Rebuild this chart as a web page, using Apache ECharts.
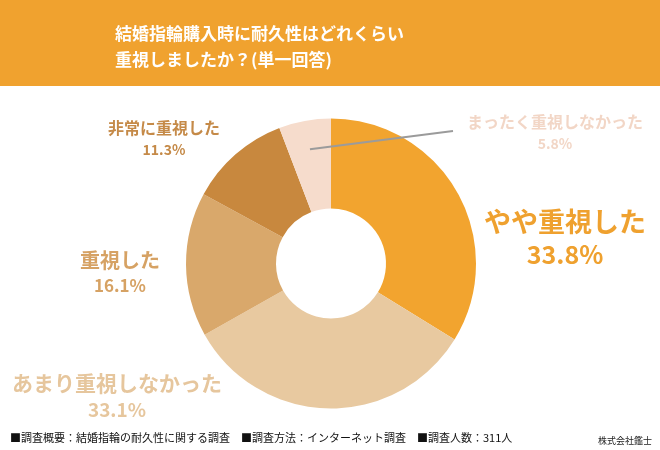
<!DOCTYPE html>
<html><head><meta charset="utf-8">
<script src="https://cdn.jsdelivr.net/npm/echarts@6/dist/echarts.min.js"></script>
<style>html,body{margin:0;padding:0;background:#fff}#c{width:660px;height:450px}</style>
</head><body><div id="c"></div>
<script>
var categories = ['やや重視した', 'あまり重視しなかった', '重視した', '非常に重視した', 'まったく重視しなかった'];
var values = [33.8, 33.1, 16.1, 11.3, 5.8];
var sliceColors = ['#F2A42F', '#E8C9A0', '#D9A86B', '#C8883E', '#F6DCCC'];
var labelColors = ['#EFA12F', '#E6C69D', '#D6A264', '#C58A48', '#F2D6C6'];
var titleText = '結婚指輪購入時に耐久性はどれくらい\n重視しましたか？(単一回答)';
var footerText = '■調査概要：結婚指輪の耐久性に関する調査　■調査方法：インターネット調査　■調査人数：311人';
var companyText = '株式会社鑑士';

// layout (not data)
var CX = 331, CY = 263.5, R0 = 55, R1 = 145;
var labelPos = [[565, 237], [117, 396], [120, 272], [164, 138], [555, 132]];
var nameSize = [27, 21, 20, 16, 16];
var valSize = [25, 19, 17, 14, 14];
var FONT = '"Noto Sans CJK JP", "Noto Sans", sans-serif';

var rich = {};
categories.forEach(function (c, i) {
  rich['n' + i] = { fontSize: nameSize[i], fontWeight: 'bold', color: labelColors[i], fontFamily: FONT, lineHeight: nameSize[i] + 7, align: 'center' };
  rich['v' + i] = { fontSize: valSize[i], fontWeight: 'bold', color: labelColors[i], fontFamily: FONT, lineHeight: valSize[i] + 6, align: 'center' };
});

// leader line for the last slice, derived from data angle
var total = values.reduce(function (a, b) { return a + b; }, 0);
var before = 0;
for (var k = 0; k < values.length - 1; k++) before += values[k];
var midFrac = (before + values[values.length - 1] / 2) / total;
var ang = midFrac * 2 * Math.PI;
var rMid = R0 + 0.68 * (R1 - R0);
var p0 = [CX + rMid * Math.sin(ang), CY - rMid * Math.cos(ang)];
var p1 = [453, 131];

var chart = echarts.init(document.getElementById('c'), null, { renderer: 'canvas' });
chart.setOption({
  backgroundColor: '#fff',
  animation: false,
  title: {
    text: titleText,
    left: 115, top: 21, padding: 0,
    textStyle: { color: '#fff', fontSize: 17, fontWeight: 'bold', lineHeight: 26, fontFamily: FONT }
  },
  graphic: [
    { type: 'rect', z: -1, shape: { x: 0, y: 0, width: 660, height: 86 }, style: { fill: '#F0A22F' } },
    { type: 'text', left: 10, top: 432, style: { text: footerText, fill: '#111', font: '11px ' + FONT } },
    { type: 'text', left: 598, top: 436, style: { text: companyText, fill: '#222', font: '9px ' + FONT } },
    { type: 'line', z: 100, shape: { x1: p0[0], y1: p0[1], x2: p1[0], y2: p1[1] }, style: { stroke: '#9B9B9B', lineWidth: 2 } }
  ],
  series: [{
    type: 'pie',
    center: [CX, CY],
    radius: [R0, R1],
    startAngle: 90,
    clockwise: true,
    avoidLabelOverlap: false,
    data: categories.map(function (c, i) {
      return { name: c, value: values[i], itemStyle: { color: sliceColors[i] } };
    }),
    label: {
      show: true,
      position: 'outside',
      formatter: function (p) {
        var i = p.dataIndex;
        return '{n' + i + '|' + p.name + '}\n{v' + i + '|' + values[i].toFixed(1) + '%}';
      },
      rich: rich
    },
    labelLine: { show: false },
    labelLayout: function (p) {
      var pos = labelPos[p.dataIndex];
      return { x: pos[0], y: pos[1], align: 'center', verticalAlign: 'middle', hideOverlap: false };
    },
    emphasis: { disabled: true }
  }]
});
</script>
</body></html>
